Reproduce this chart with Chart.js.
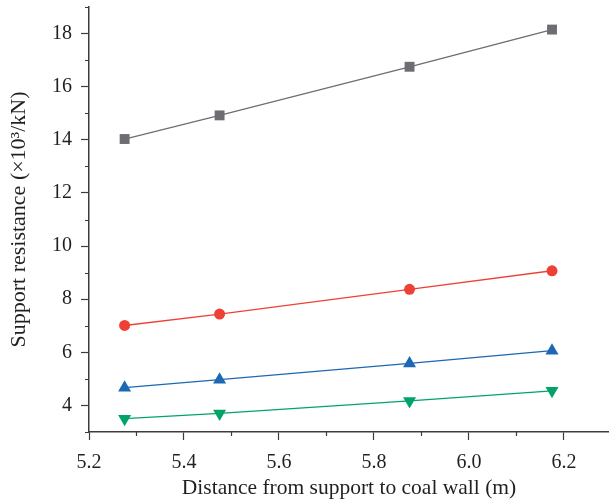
<!DOCTYPE html>
<html>
<head>
<meta charset="utf-8">
<script src="https://cdn.jsdelivr.net/npm/chart.js@4.4.1/dist/chart.umd.min.js"></script>
<style>
  html, body { margin: 0; padding: 0; background: #fff; overflow: hidden; }
  #wrap { width: 609px; height: 504px; position: relative; }
</style>
</head>
<body>
<div id="wrap"><canvas id="c"></canvas></div>
<script>
// ---- data ----
const xValues = [5.275, 5.475, 5.875, 6.175];
const seriesSquare = [14.03, 14.92, 16.75, 18.15];
const seriesCircle = [7.01, 7.44, 8.37, 9.07];
const seriesTriUp = [4.67, 4.97, 5.58, 6.06];
const seriesTriDown = [3.50, 3.70, 4.17, 4.55];
const xMajorTicks = [5.2, 5.4, 5.6, 5.8, 6.0, 6.2];
const xMinorTicks = [5.3, 5.5, 5.7, 5.9, 6.1];
const yMajorTicks = [4, 6, 8, 10, 12, 14, 16, 18];
const yMinorTicks = [3, 5, 7, 9, 11, 13, 15, 17, 19];
const xTitle = 'Distance from support to coal wall (m)';
const yTitle = 'Support resistance (\u00d710\u00b3/kN)';

const axisColor = '#3c3c3c';
const textColor = '#231f20';
const fontFamily = '"Liberation Serif", "Times New Roman", serif';

function toPts(ys) { return xValues.map((x, i) => ({ x: x, y: ys[i] })); }

function ds(data, color, style, radius, rotation) {
  return {
    data: toPts(data),
    borderColor: color,
    backgroundColor: color,
    borderWidth: 1.3,
    pointStyle: style,
    pointRadius: radius,
    pointHoverRadius: radius,
    pointRotation: rotation || 0,
    pointBorderWidth: 0,
    pointBackgroundColor: color,
    tension: 0
  };
}

const minorTicksPlugin = {
  id: 'minorTicks',
  afterDraw(chart) {
    const ctx = chart.ctx;
    const xs = chart.scales.x, ys = chart.scales.y;
    ctx.save();
    ctx.strokeStyle = axisColor;
    ctx.lineWidth = 1.2;
    ctx.beginPath();
    xMinorTicks.forEach(v => {
      const px = Math.round(xs.getPixelForValue(v)) + 0.5;
      ctx.moveTo(px, xs.top);
      ctx.lineTo(px, xs.top + 4);
    });
    yMinorTicks.forEach(v => {
      const py = Math.round(ys.getPixelForValue(v)) + 0.5;
      ctx.moveTo(ys.right, py);
      ctx.lineTo(ys.right - 4, py);
    });
    ctx.stroke();
    ctx.restore();
  }
};

new Chart(document.getElementById('c'), {
  type: 'line',
  data: {
    datasets: [
      ds(seriesSquare, '#6d6e72', 'rect', 7),
      ds(seriesCircle, '#ee4035', 'circle', 5.5),
      ds(seriesTriUp, '#1c68b2', 'triangle', 7.5),
      ds(seriesTriDown, '#00a468', 'triangle', 7.5, 180)
    ]
  },
  options: {
    responsive: true,
    maintainAspectRatio: false,
    animation: false,
    events: [],
    layout: { autoPadding: false, padding: { top: 7, left: 0, right: 0, bottom: 0 } },
    plugins: { legend: { display: false }, tooltip: { enabled: false } },
    scales: {
      x: {
        type: 'linear',
        min: 5.2,
        max: 6.295,
        afterBuildTicks: s => { s.ticks = xMajorTicks.map(v => ({ value: v })); },
        afterFit: s => { s.height = 72; s.paddingLeft = 0; s.paddingRight = 0; },
        grid: { display: true, drawOnChartArea: false, drawTicks: true, tickLength: 8, tickColor: axisColor, tickWidth: 1.2 },
        border: { display: true, color: axisColor, width: 1.5 },
        ticks: {
          padding: 11,
          color: textColor,
          font: { family: fontFamily, size: 20 },
          maxRotation: 0,
          callback: v => Number(v).toFixed(1)
        },
        title: {
          display: true,
          text: xTitle,
          color: textColor,
          font: { family: fontFamily, size: 21.5 },
          padding: { top: 0, bottom: 3 }
        }
      },
      y: {
        type: 'linear',
        min: 3,
        max: 19,
        afterBuildTicks: s => { s.ticks = yMajorTicks.map(v => ({ value: v })); },
        afterFit: s => { s.width = 89; s.paddingTop = 0; s.paddingBottom = 0; },
        grid: { display: true, drawOnChartArea: false, drawTicks: true, tickLength: 8, tickColor: axisColor, tickWidth: 1.2 },
        border: { display: true, color: axisColor, width: 1.5 },
        ticks: {
          padding: 9,
          color: textColor,
          font: { family: fontFamily, size: 20 },
          callback: v => String(v)
        },
        title: {
          display: true,
          text: yTitle,
          color: textColor,
          font: { family: fontFamily, size: 22 },
          padding: { top: 6, bottom: 0 }
        }
      }
    }
  },
  plugins: [minorTicksPlugin]
});
</script>
</body>
</html>
